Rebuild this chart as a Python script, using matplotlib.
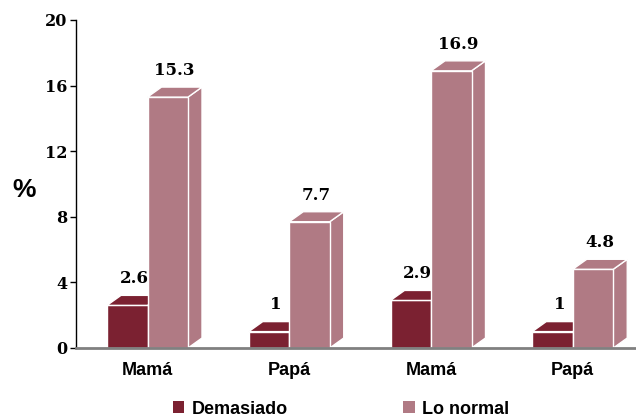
import matplotlib
matplotlib.use("Agg")
import matplotlib.pyplot as plt
from matplotlib.patches import Rectangle, Polygon, Patch

# chart data
categories = ["Mamá", "Papá", "Mamá", "Papá"]
demasiado = [2.6, 1, 2.9, 1]
lo_normal = [15.3, 7.7, 16.9, 4.8]
series_names = ["Demasiado", "Lo normal"]
yticks = [0, 4, 8, 12, 16, 20]

c_dem = "#7b2131"
c_norm = "#b07a84"

fig = plt.figure(figsize=(6.36, 4.20), dpi=100)
# axes spans x 76..636 px, y 20..348 px
ax = fig.add_axes([76 / 636, 72 / 420, 560 / 636, 328 / 420])

bw = 1.0              # bar width (data units ~ 40.5 px)
spacing = 3.5         # group spacing
px = 40.5             # px per x unit
ax.set_xlim(-71.5 / px, (560 - 71.5) / px)
ax.set_ylim(0, 20)

dx = 14 / px          # 3d depth offsets
dy = 10 / 16.4


def bar3d(x0, h, color):
    x1 = x0 + bw
    front = Rectangle((x0, 0), bw, h, facecolor=color, edgecolor="white", lw=1, zorder=3)
    top = Polygon([(x0, h), (x0 + dx, h + dy), (x1 + dx, h + dy), (x1, h)],
                  closed=True, facecolor=color, edgecolor="white", lw=1, zorder=3)
    side = Polygon([(x1, 0), (x1 + dx, dy), (x1 + dx, h + dy), (x1, h)],
                   closed=True, facecolor=color, edgecolor="white", lw=1, zorder=2)
    for p in (side, front, top):
        p.set_clip_on(False)
        ax.add_patch(p)
    lab = f"{h:g}"
    ax.text(x0 + bw / 2 + dx / 2, h + dy + 0.5, lab, ha="center", va="bottom",
            fontsize=12, fontweight="bold", family="DejaVu Serif", color="black")


centers = [i * spacing for i in range(len(categories))]
for c, d, n in zip(centers, demasiado, lo_normal):
    bar3d(c - bw, d, c_dem)
    bar3d(c, n, c_norm)

# axes styling
for s in ["top", "right"]:
    ax.spines[s].set_visible(False)
ax.spines["left"].set_color("black")
ax.spines["left"].set_linewidth(1)
ax.spines["bottom"].set_color("#808080")
ax.spines["bottom"].set_linewidth(2)
ax.spines["bottom"].set_zorder(4)

ax.set_yticks(yticks)
ax.set_yticklabels([str(t) for t in yticks], fontsize=11.5, fontweight="bold",
                   family="DejaVu Serif")
ax.tick_params(axis="y", length=4, width=1, pad=2)
ax.set_xticks(centers)
ax.set_xticklabels(categories, fontsize=13, fontweight="bold", family="Liberation Sans")
ax.tick_params(axis="x", length=0, pad=10)

fig.text(24 / 636, 1 - 190 / 420, "%", fontsize=19, fontweight="bold",
         family="Liberation Sans", ha="center", va="center")

handles = [Patch(facecolor=c_dem, edgecolor="none"), Patch(facecolor=c_norm, edgecolor="none")]
leg = fig.legend(handles, series_names, loc="center", bbox_to_anchor=(341 / 636, 1 - 409 / 420),
                 ncol=2, frameon=False, handlelength=0.65, handleheight=0.65,
                 handletextpad=0.4, columnspacing=6.4,
                 prop={"family": "Liberation Sans", "weight": "bold", "size": 13})

fig.savefig("out.png", dpi=100)
